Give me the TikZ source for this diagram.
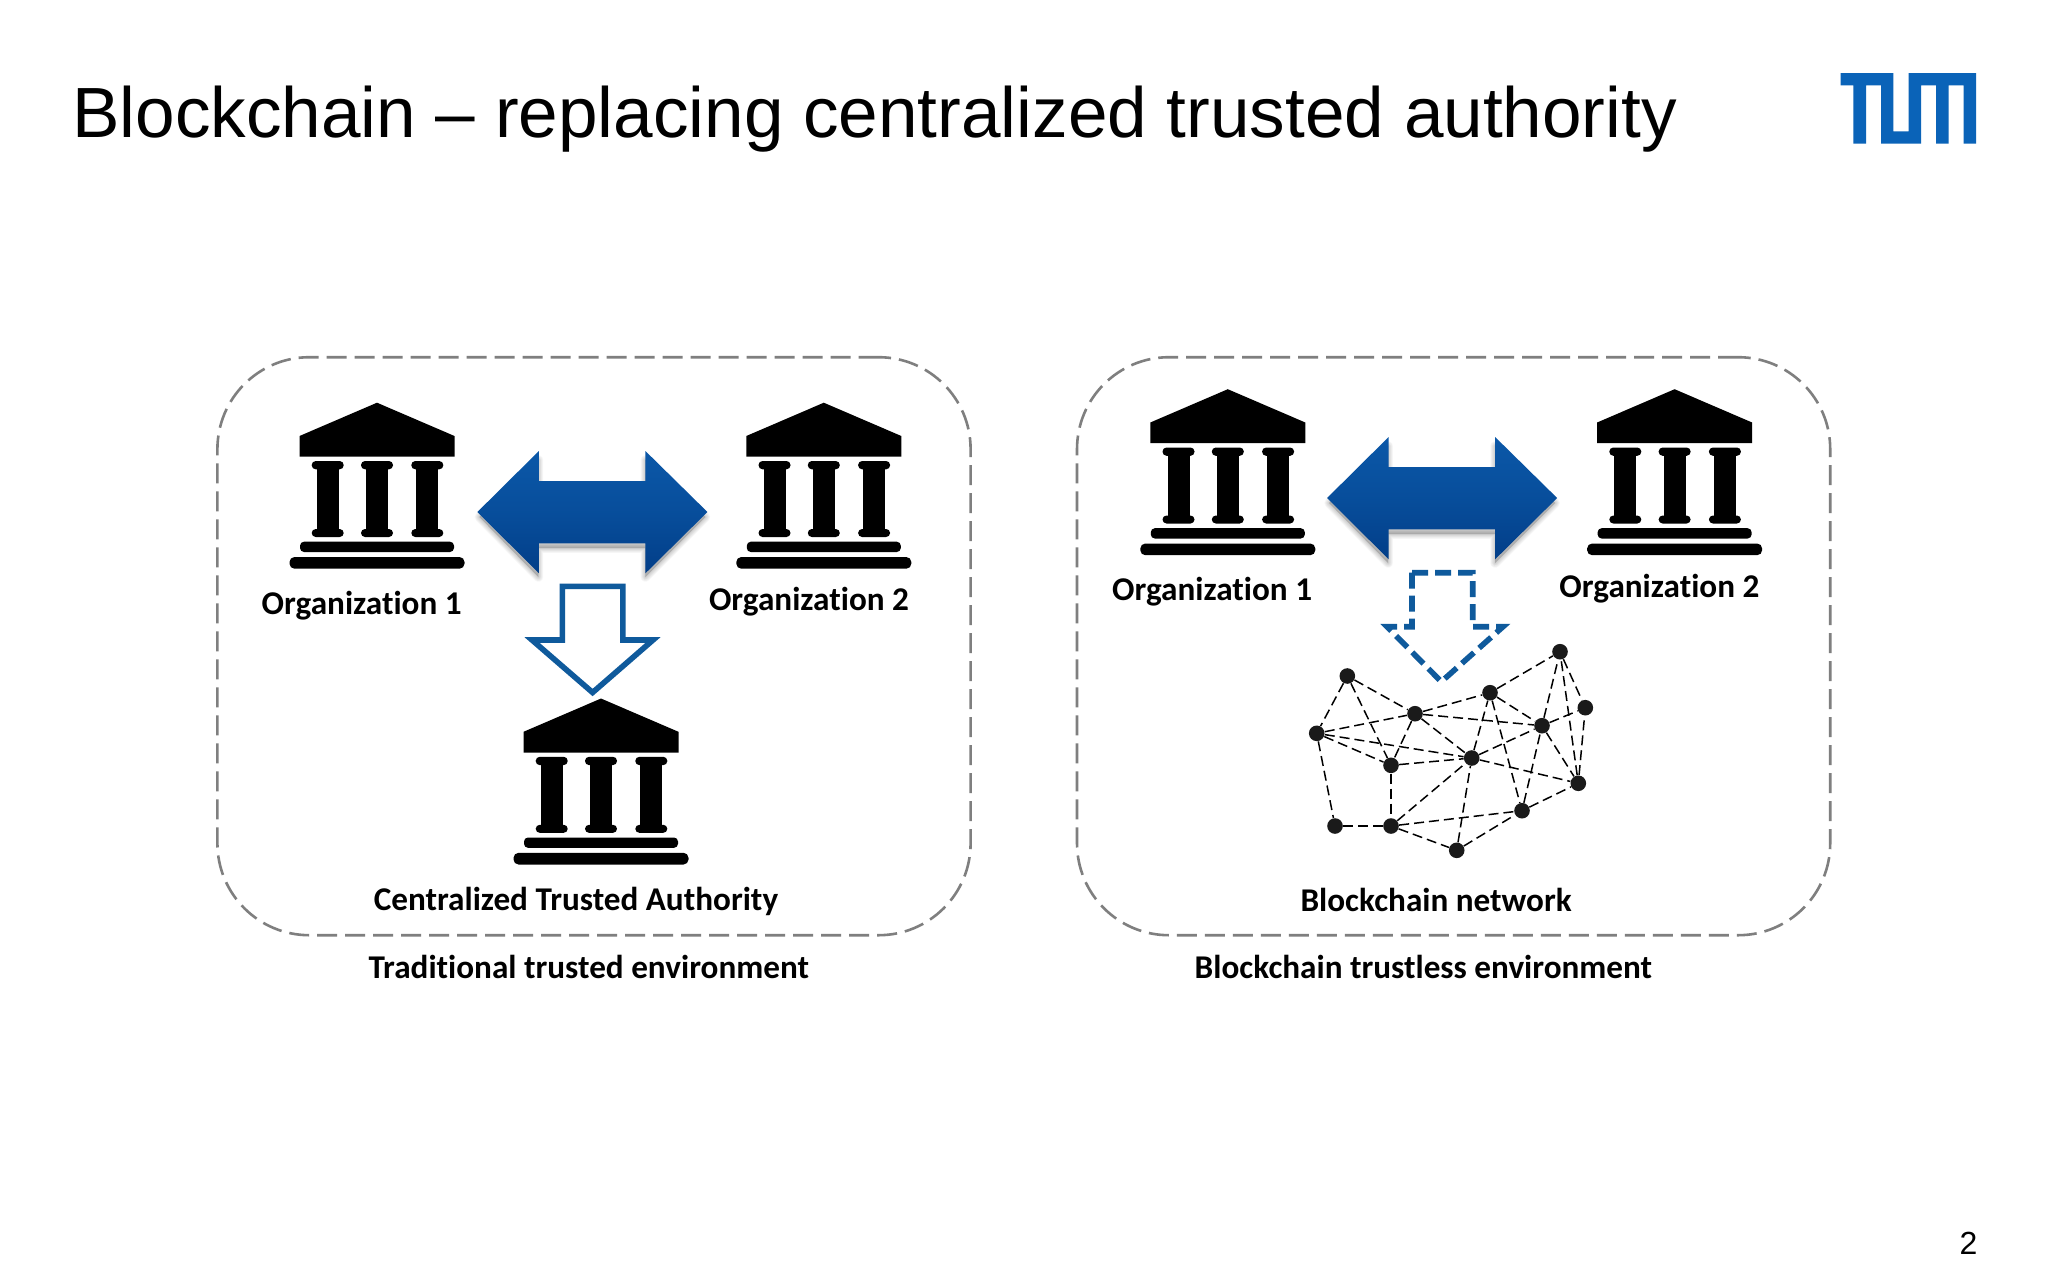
\documentclass[tikz,border=0pt]{standalone}
\usepackage{fontspec}
\setmainfont{Liberation Sans}
\newfontfamily\labelfont{Carlito}[Ligatures=NoCommon,BoldFont={Carlito Bold},BoldFeatures={Ligatures=NoCommon}]
\definecolor{tumblue}{HTML}{0A63B8}
\definecolor{arrowline}{HTML}{0F5A9C}
\definecolor{arrowtop}{HTML}{0B58A8}
\definecolor{arrowbot}{HTML}{023E88}
\definecolor{panelgray}{HTML}{7F7F7F}
\definecolor{dotblack}{HTML}{1A1A1A}
\tikzset{
  panel/.style={draw=panelgray,line width=1.3pt,rounded corners=46pt,dash pattern=on 10pt off 4pt,
    minimum width=376.6pt,minimum height=289pt,inner sep=0pt},
  lbl/.style={font=\labelfont\bfseries\fontsize{16.6}{18}\selectfont,text=black,inner sep=0pt,anchor=center},
  dot/.style={circle,fill=dotblack,inner sep=0pt,minimum size=7.8pt},
  link/.style={draw=black,line width=.75pt,dash pattern=on 5pt off 2.5pt},
  outline arrow/.style={draw=arrowline,line width=2.8pt,miter limit=10},
  bank/.pic={
    \fill[black] (0,0) -- (77.5,33.3) -- (77.5,54) -- (-77.5,54) -- (-77.5,33.3) -- cycle;
    \foreach \cx in {-49.3,0,50.3}{
      \fill[black] (\cx-11,60) rectangle (\cx+11,132);
      \fill[black,rounded corners=2pt] (\cx-16,58.3) rectangle (\cx+16,66.6);
      \fill[black,rounded corners=2pt] (\cx-16,126.3) rectangle (\cx+16,134.3);
    }
    \fill[black,rounded corners=2pt] (-77,139) rectangle (77,149.3);
    \fill[black,rounded corners=2.5pt] (-87.5,154.3) rectangle (87.5,166);
  },
  pics/dblarrow/.style={code={
    \foreach \s in {1,...,6}{
      \fill[black,opacity=.03,line join=round,draw=black,line width=\s*0.8pt,draw opacity=.03]
        (-113,5) -- (-54,-52) -- (-54,-24) -- (53,-24) -- (53,-52) -- (113,5) -- (53,65) -- (53,36) -- (-54,36) -- (-54,65) -- cycle;
    }
    \shade[top color=arrowtop,bottom color=arrowbot,middle color=arrowtop!60!arrowbot]
      (-115,0) -- (-53.5,-61) -- (-53.5,-31) -- (53,-31) -- (53,-61) -- (115,0) -- (53,61.3) -- (53,31.3) -- (-53.5,31.3) -- (-53.5,61.3) -- cycle;
  }}
}
\begin{document}
\begin{tikzpicture}[x=0.5pt,y=-0.5pt]
\useasboundingbox (0,0) rectangle (2048,1280);
\fill[white] (0,0) rectangle (2048,1280);

\node[anchor=base west,inner sep=0pt,font=\fontsize{35.55}{40}\selectfont] (title) at (72,137) {Blockchain -- replacing centralized trusted authority};
\node[anchor=base,inner sep=0pt,font=\fontsize{16}{18}\selectfont] (pageno) at (1968.5,1254) {2};

% TUM logo
\fill[tumblue] (1840.7,73) -- (1893.3,73) -- (1893.3,131.3) -- (1908.7,131.3) -- (1908.7,73) -- (1976,73) -- (1976,143.7)
  -- (1963.7,143.7) -- (1963.7,85.3) -- (1948.7,85.3) -- (1948.7,143.7) -- (1936,143.7) -- (1936,85.3) -- (1921,85.3)
  -- (1921,143.7) -- (1881,143.7) -- (1881,85.3) -- (1866,85.3) -- (1866,143.7) -- (1853.3,143.7) -- (1853.3,85.3) -- (1840.7,85.3) -- cycle;

% Panels
\node[panel] (leftpanel) at (594,646.2) {};
\node[panel] (rightpanel) at (1453.6,646.2) {};

% Left panel
\pic at (377,402.7) {bank};
\pic at (823.8,402.7) {bank};
\pic at (601,698.5) {bank};
\pic at (592.4,512) {dblarrow};
\draw[outline arrow] (562.3,586.3) -- (622.8,586.3) -- (622.8,640) -- (653,640) -- (592.6,692.5) -- (532,640) -- (562.3,640) -- cycle;

\node[lbl] (org1a) at (361.7,605.5) {Organization 1};
\node[lbl] (org2a) at (809,601.5) {Organization 2};
\node[lbl] (cta) at (576,901.7) {Centralized Trusted Authority};
\node[lbl] (trad) at (588.7,966.7) {Traditional trusted environment};

% Right panel
\pic at (1227.8,389.2) {bank};
\pic at (1674.6,389.2) {bank};
\pic at (1442.1,498) {dblarrow};
\draw[outline arrow,dash pattern=on 8pt off 3.5pt] (1412,572.7) -- (1472.7,572.7) -- (1472.7,626.7) -- (1503,626.7) -- (1441.3,681.7) -- (1387,626.7) -- (1412,626.7) -- cycle;

\node[lbl] (org1b) at (1212.1,592) {Organization 1};
\node[lbl] (org2b) at (1659.4,589) {Organization 2};
\node[lbl] (bcn) at (1436.1,899.6) {Blockchain network};
\node[lbl] (bte) at (1423.4,966.7) {Blockchain trustless environment};

% Network
\node[dot] (a) at (1347.3,676) {};
\node[dot] (b) at (1316.7,733.3) {};
\node[dot] (c) at (1415,713.7) {};
\node[dot] (d) at (1391,765.3) {};
\node[dot] (e) at (1335,826) {};
\node[dot] (f) at (1391,826) {};
\node[dot] (g) at (1456.7,850.3) {};
\node[dot] (h) at (1471.7,758) {};
\node[dot] (i) at (1490,692.7) {};
\node[dot] (j) at (1522,810.7) {};
\node[dot] (k) at (1542,725.7) {};
\node[dot] (l) at (1578.3,783.3) {};
\node[dot] (m) at (1560,651.7) {};
\node[dot] (n) at (1585.3,707.7) {};
\foreach \p/\q in {a/b,a/c,a/d,b/c,b/d,b/h,b/e,c/d,c/h,c/i,c/k,d/h,d/f,e/f,f/h,f/j,f/g,g/h,g/j,h/i,h/k,h/l,i/k,i/j,i/m,j/k,j/l,k/l,k/m,k/n,l/m,l/n,m/n}
  \draw[link] (\p) -- (\q);
\end{tikzpicture}
\end{document}
